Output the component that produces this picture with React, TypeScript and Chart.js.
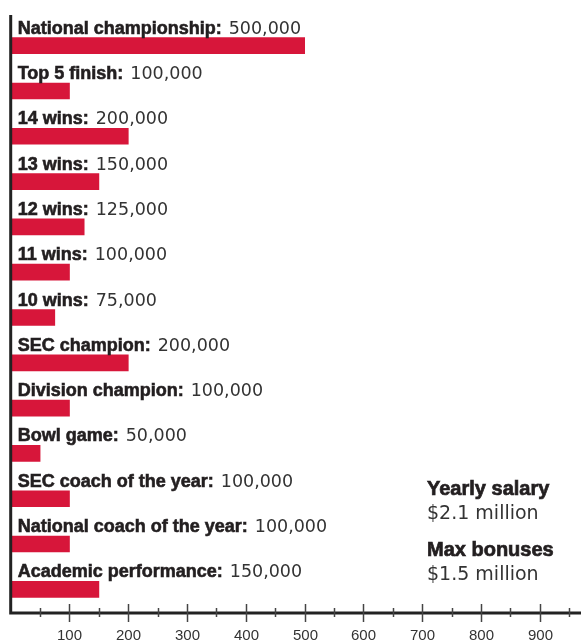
import React, { useEffect, useRef } from "react";
import { Chart, registerables } from "chart.js";
Chart.register(...registerables);

const categories = [
  "National championship:",
  "Top 5 finish:",
  "14 wins:",
  "13 wins:",
  "12 wins:",
  "11 wins:",
  "10 wins:",
  "SEC champion:",
  "Division champion:",
  "Bowl game:",
  "SEC coach of the year:",
  "National coach of the year:",
  "Academic performance:",
];
const bonusValues = [500000, 100000, 200000, 150000, 125000, 100000, 75000, 200000, 100000, 50000, 100000, 100000, 150000];
const valueLabels = ["500,000", "100,000", "200,000", "150,000", "125,000", "100,000", "75,000", "200,000", "100,000", "50,000", "100,000", "100,000", "150,000"];
const tickValues = [50, 100, 150, 200, 250, 300, 350, 400, 450, 500, 550, 600, 650, 700, 750, 800, 850, 900, 950];
const notes = [
  { title: "Yearly salary", value: "$2.1 million" },
  { title: "Max bonuses", value: "$1.5 million" },
];

const FONT = "'Liberation Sans', Arial, sans-serif";
const VFONT = "'DejaVu Sans', sans-serif";
const RED = "#d7163a";
const INK = "#231f20";

const drawPlugin = {
  id: "customDraw",
  afterDatasetsDraw(chart: any) {
    const { ctx, chartArea } = chart;
    const xs = chart.scales.x;
    const ys = chart.scales.y;
    ctx.save();
    // labels above bars
    categories.forEach((c, i) => {
      const yc = ys.getPixelForValue(i);
      const y = yc - 12;
      const x0 = xs.getPixelForValue(0) + 7;
      ctx.fillStyle = INK;
      ctx.strokeStyle = INK;
      ctx.lineWidth = 0.6;
      ctx.textBaseline = "alphabetic";
      ctx.textAlign = "left";
      ctx.font = `bold 18px ${FONT}`;
      ctx.fillText(c, x0, y);
      ctx.strokeText(c, x0, y);
      const w = ctx.measureText(c).width;
      ctx.font = `17.5px ${VFONT}`;
      ctx.fillStyle = "#333";
      ctx.fillText(valueLabels[i], x0 + w + 7, y);
    });
    // axes
    const x0 = xs.getPixelForValue(0);
    const yb = chartArea.bottom + 1;
    ctx.strokeStyle = "#222";
    ctx.lineWidth = 3;
    ctx.beginPath();
    ctx.moveTo(x0, 15);
    ctx.lineTo(x0, yb);
    ctx.lineTo(chart.width, yb);
    ctx.stroke();
    // ticks
    ctx.lineWidth = 1.5;
    ctx.strokeStyle = "#444";
    tickValues.forEach((v) => {
      const px = Math.round(xs.getPixelForValue(v)) + 0.5;
      const major = v % 100 === 0;
      ctx.beginPath();
      ctx.moveTo(px, major ? yb - 9 : yb - 5);
      ctx.lineTo(px, major ? yb + 9 : yb + 4);
      ctx.stroke();
      if (major) {
        ctx.fillStyle = "#333";
        ctx.font = `15px ${FONT}`;
        ctx.textAlign = "center";
        ctx.textBaseline = "alphabetic";
        ctx.fillText(String(v), px, 640);
      }
    });
    // notes
    ctx.textAlign = "left";
    const nx = 427;
    const ny = [495, 556];
    notes.forEach((n, i) => {
      ctx.font = `bold 20px ${FONT}`;
      ctx.fillStyle = INK;
      ctx.strokeStyle = INK;
      ctx.lineWidth = 0.7;
      ctx.fillText(n.title, nx, ny[i]);
      ctx.strokeText(n.title, nx, ny[i]);
      ctx.font = `19px ${VFONT}`;
      ctx.fillStyle = "#333";
      ctx.fillText(n.value, nx, ny[i] + 24);
    });
    ctx.restore();
  },
};

export default function App() {
  const ref = useRef<HTMLCanvasElement>(null);
  useEffect(() => {
    document.body.style.margin = "0";
    const chart = new Chart(ref.current!, {
      type: "bar",
      data: {
        labels: categories,
        datasets: [
          {
            data: bonusValues.map((v) => v / 1000),
            backgroundColor: RED,
            barThickness: 16,
            borderWidth: 0,
          },
        ],
      },
      options: {
        indexAxis: "y",
        animation: false,
        responsive: false,
        maintainAspectRatio: false,
        layout: { padding: { left: 10.7, top: 23, bottom: 31, right: 0 } },
        plugins: { legend: { display: false }, tooltip: { enabled: false } },
        scales: {
          x: { display: false, min: 0, max: 970 },
          y: { display: false, offset: true },
        },
      },
      plugins: [drawPlugin],
    });
    return () => chart.destroy();
  }, []);
  return (
    <div style={{ width: 581, height: 643 }}>
      <canvas ref={ref} width={581} height={643} style={{ display: "block" }} />
    </div>
  );
}
